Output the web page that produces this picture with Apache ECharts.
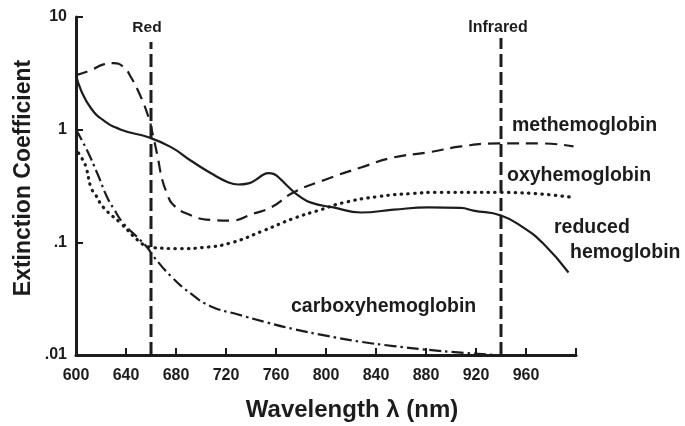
<!DOCTYPE html>
<html>
<head>
<meta charset="utf-8">
<script src="https://cdn.jsdelivr.net/npm/echarts/dist/echarts.min.js"></script>
<style>
html,body{margin:0;padding:0;background:#fff;}
#chart{width:685px;height:426px;}
</style>
</head>
<body>
<div id="chart"></div>
<script>
// ---- data (wavelength nm, extinction coefficient) ----
const reducedNm  = [600, 604, 612, 622, 636, 658, 676, 692, 708, 722, 730, 738, 744, 750, 754, 758, 764, 770, 778, 788, 806, 828, 854, 882, 908, 918, 940, 958, 974, 994];
const reducedVal = [3.05, 2.24, 1.55, 1.21, 1.0, 0.855, 0.70, 0.53, 0.41, 0.34, 0.326, 0.334, 0.36, 0.40, 0.412, 0.405, 0.36, 0.31, 0.26, 0.225, 0.204, 0.184, 0.195, 0.204, 0.202, 0.191, 0.173, 0.135, 0.097, 0.054];

const methNm  = [600, 612, 622, 630, 638, 644, 652, 658, 661, 665, 669, 673, 677, 689, 708, 724, 742, 756, 774, 802, 828, 854, 882, 908, 938, 972, 998];
const methVal = [3.05, 3.37, 3.8, 3.9, 3.6, 2.92, 1.94, 1.29, 0.95, 0.6, 0.36, 0.27, 0.22, 0.179, 0.158, 0.156, 0.18, 0.204, 0.277, 0.369, 0.462, 0.567, 0.629, 0.71, 0.755, 0.755, 0.71];

const oxyNm  = [602, 605, 608, 612, 616, 622, 636, 650, 656, 662, 684, 702, 724, 750, 774, 796, 814, 842, 868, 892, 940, 998];
const oxyVal = [0.62, 0.55, 0.465, 0.307, 0.26, 0.204, 0.147, 0.103, 0.093, 0.0897, 0.088, 0.09, 0.099, 0.127, 0.163, 0.195, 0.225, 0.255, 0.271, 0.278, 0.278, 0.25];

const carboxyNm  = [600, 609, 617, 625, 630, 638, 649, 657, 662, 676, 692, 708, 729, 753, 774, 802, 828, 854, 882, 908, 935];
const carboxyVal = [1.0, 0.65, 0.41, 0.25, 0.2, 0.147, 0.111, 0.09, 0.075, 0.05, 0.035, 0.027, 0.023, 0.0194, 0.017, 0.0147, 0.0131, 0.012, 0.0111, 0.0105, 0.0100];

const redNm = [660, 660];         const redVal = [0.01, 6.0];
const infraredNm = [940, 940];    const infraredVal = [0.01, 6.5];

const xTicks = [600, 640, 680, 720, 760, 800, 840, 880, 920, 960];
const yTickLabels = {'10': '10', '1': '1', '0.1': '.1', '0.01': '.01'};

const zip = (xs, ys) => xs.map((x, i) => [x, ys[i]]);

const INK = '#1c1c1c';
const FONT = '"Liberation Sans", Arial, Helvetica, sans-serif';

function curve(name, xs, ys, lineStyle) {
  return {
    name, type: 'line', data: zip(xs, ys), smooth: true, showSymbol: false, symbol: 'none',
    lineStyle: Object.assign({color: INK, width: 2.2}, lineStyle), z: 3
  };
}

const chart = echarts.init(document.getElementById('chart'), null, {renderer: 'canvas'});
const textStyleBase = {fill: INK, fontFamily: FONT, fontWeight: 'bold'};
function label(text, x, y, size, align) {
  return {type: 'text', x, y, style: Object.assign({}, textStyleBase, {text, fontSize: size, textAlign: align || 'left', textVerticalAlign: 'middle'})};
}

chart.setOption({
  animation: false,
  backgroundColor: '#fff',
  grid: {left: 76, right: 109, top: 17, bottom: 71},
  xAxis: {
    type: 'value', min: 600, max: 1000, interval: 40,
    axisLine: {show: true, lineStyle: {color: INK, width: 3}},
    axisTick: {show: true, inside: true, length: 7, lineStyle: {color: INK, width: 2}},
    axisLabel: {
      color: INK, fontFamily: FONT, fontWeight: 'bold', fontSize: 16, margin: 13,
      formatter: v => (xTicks.indexOf(v) >= 0 ? String(v) : '')
    },
    splitLine: {show: false}
  },
  yAxis: {
    type: 'log', logBase: 10, min: 0.01, max: 10,
    axisLine: {show: true, lineStyle: {color: INK, width: 3}},
    axisTick: {show: true, inside: true, length: 7, lineStyle: {color: INK, width: 2}},
    axisLabel: {
      color: INK, fontFamily: FONT, fontWeight: 'bold', fontSize: 16, margin: 9,
      formatter: v => yTickLabels[String(+v.toPrecision(3))] || ''
    },
    splitLine: {show: false}
  },
  series: [
    curve('reduced hemoglobin', reducedNm, reducedVal, {type: 'solid'}),
    curve('methemoglobin', methNm, methVal, {type: [12, 7]}),
    curve('oxyhemoglobin', oxyNm, oxyVal, {type: [0.5, 6.2], width: 3.2, cap: 'round'}),
    curve('carboxyhemoglobin', carboxyNm, carboxyVal, {type: [12, 4, 2.5, 4]}),
    {name: 'Red', type: 'line', data: zip(redNm, redVal), showSymbol: false, symbol: 'none',
     lineStyle: {color: INK, width: 3, type: [13, 5]}, z: 2},
    {name: 'Infrared', type: 'line', data: zip(infraredNm, infraredVal), showSymbol: false, symbol: 'none',
     lineStyle: {color: INK, width: 3, type: [13, 5]}, z: 2}
  ],
  graphic: [
    label('Red', 147, 28, 15.5, 'center'),
    label('Infrared', 498, 28, 16, 'center'),
    label('methemoglobin', 512, 126, 19.5),
    label('oxyhemoglobin', 507, 176, 19.5),
    label('reduced', 554, 228, 19.5),
    label('hemoglobin', 570, 252.5, 19.5),
    label('carboxyhemoglobin', 291, 306.5, 19.5),
    label('Wavelength \u03bb (nm)', 352, 410, 24, 'center'),
    {type: 'text', x: 24, y: 178, rotation: Math.PI / 2,
     style: Object.assign({}, textStyleBase, {text: 'Extinction Coefficient', fontSize: 23, textAlign: 'center', textVerticalAlign: 'middle'})}
  ]
});
</script>
</body>
</html>
